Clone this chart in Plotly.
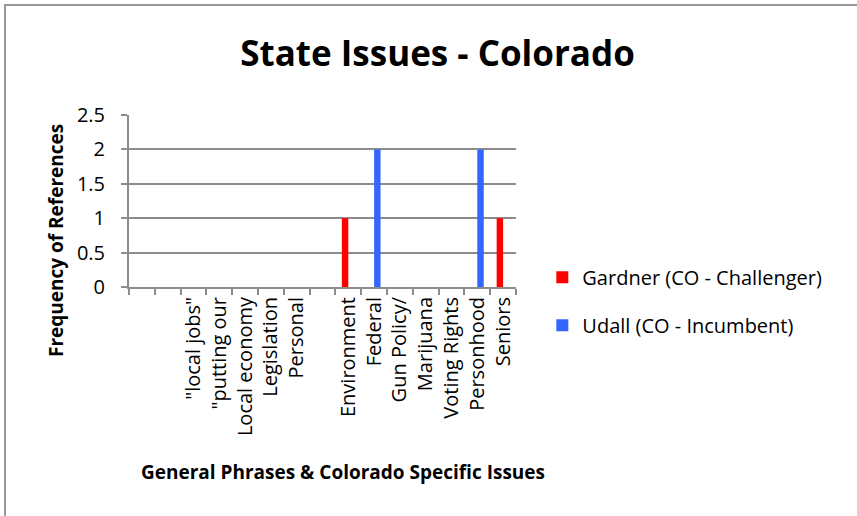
import plotly.graph_objects as go

# ---- data ----
categories = ["", "", '"local jobs"', '"putting our', "Local economy", "Legislation",
              "Personal", "", "Environment", "Federal", "Gun Policy/", "Marijuana",
              "Voting Rights", "Personhood", "Seniors"]
gardner = [0, 0, 0, 0, 0, 0, 0, 0, 1, 0, 0, 0, 0, 0, 1]
udall = [0, 0, 0, 0, 0, 0, 0, 0, 0, 2, 0, 0, 0, 2, 0]
series_names = ["Gardner (CO - Challenger)", "Udall (CO - Incumbent)"]
y_ticks = [0, 0.5, 1, 1.5, 2, 2.5]
title_text = "State Issues - Colorado"
x_title = "General Phrases & Colorado Specific Issues"
y_title = "Frequency of References"

# unique keys for blank categories (rendered blank)
keys = []
blank_count = 0
for c in categories:
    if c == "":
        blank_count += 1
        keys.append("\u200b" * blank_count)
    else:
        keys.append(c)

FONT = "Open Sans"
GRID = "#8c8c8c"

fig = go.Figure()
fig.add_trace(go.Bar(x=keys, y=gardner, name=series_names[0], marker_color="#ff0000",
                     marker_line_width=0, legendgroup="g1"))
fig.add_trace(go.Bar(x=keys, y=udall, name=series_names[1], marker_color="#3366ff",
                     marker_line_width=0, legendgroup="g2"))

fig.update_layout(
    width=857, height=516,
    margin=dict(l=129, r=341, t=115, b=229),
    paper_bgcolor="white", plot_bgcolor="white",
    barmode="group", bargap=0.5, bargroupgap=0,
    font=dict(family=FONT, size=20, color="black"),
    title=dict(text=title_text, xref="container", yref="container",
               x=437.5 / 857, y=1 - 54 / 516, xanchor="center", yanchor="middle",
               font=dict(family=FONT, size=35, color="black", weight="bold")),
    showlegend=True,
    legend=dict(x=1.068, y=0.17, xanchor="left", yanchor="top",
                font=dict(family=FONT, size=20, color="black"),
                tracegroupgap=19, traceorder="grouped", bgcolor="rgba(0,0,0,0)"),
    xaxis=dict(type="category", tickmode="linear", tick0=0, dtick=1,
               tickangle=-90, tickson="boundaries", ticks="outside", ticklen=6,
               tickwidth=2, tickcolor=GRID, showline=True, linecolor=GRID, linewidth=2,
               showgrid=False, automargin=False,
               tickfont=dict(family=FONT, size=20, color="black")),
    yaxis=dict(range=[0, 2.5], tickmode="array", tickvals=y_ticks,
               ticks="outside", ticklen=6, tickwidth=2, tickcolor=GRID,
               showline=True, linecolor=GRID, linewidth=2,
               showgrid=True, gridcolor=GRID, gridwidth=2, zeroline=False,
               ticklabelstandoff=12, automargin=False,
               tickfont=dict(family=FONT, size=20, color="black")),
    annotations=[
        dict(text=x_title, xref="paper", yref="paper", x=0.553, y=(287 - 472) / 172,
             xanchor="center", yanchor="middle", showarrow=False,
             font=dict(family=FONT, size=19, color="black", weight="bold")),
        dict(text=y_title, xref="paper", yref="paper", x=(56 - 129) / 387,
             y=(287 - 241) / 172, xanchor="center", yanchor="middle",
             textangle=-90, showarrow=False,
             font=dict(family=FONT, size=19, color="black", weight="bold")),
    ],
    shapes=[
        dict(type="rect", xref="paper", yref="paper",
             x0=(5 - 129) / 387, x1=(870 - 129) / 387,
             y0=(287 - 530) / 172, y1=(287 - 5) / 172,
             line=dict(color="#999999", width=2), fillcolor="rgba(0,0,0,0)", layer="below"),
    ],
)

fig.write_html("out.html", config={"displayModeBar": False},
               post_script="document.body.style.margin='0';")
